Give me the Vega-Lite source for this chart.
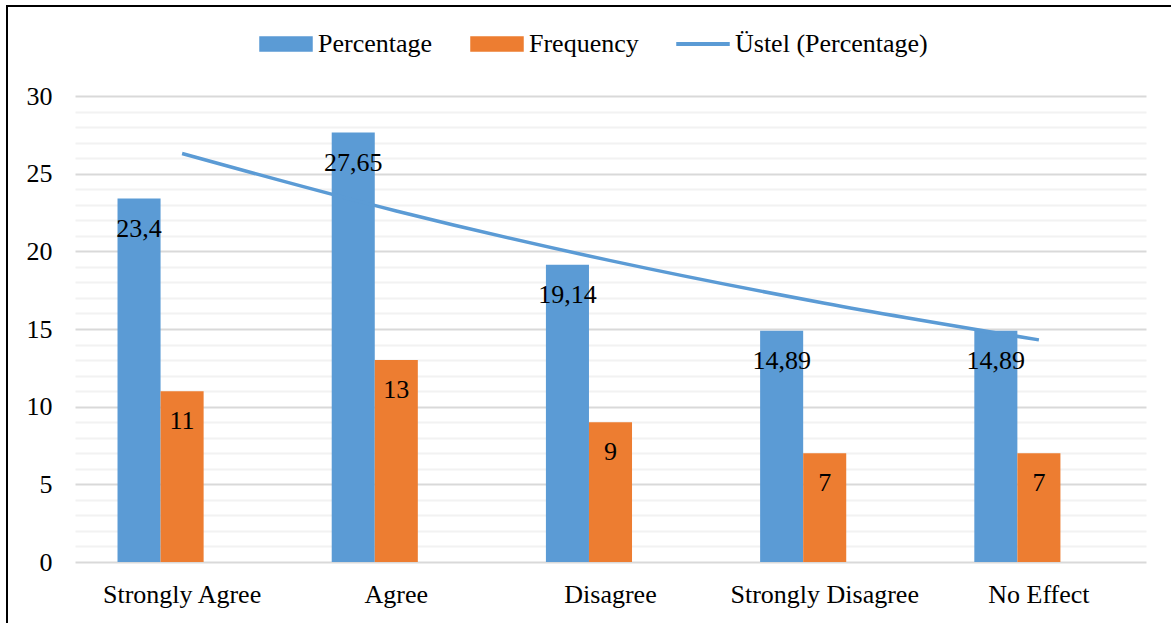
{
  "$schema": "https://vega.github.io/schema/vega-lite/v6.json",
  "autosize": {"type": "none"},
  "width": 1168,
  "height": 623,
  "padding": {"left": 7, "top": 6, "right": -4, "bottom": -6},
  "config": {
    "locale": {"number": {"decimal": ",", "thousands": ".", "grouping": [3], "currency": ["", " TL"]}},
    "font": "Liberation Serif",
    "view": {"stroke": "#000000", "strokeWidth": 2},
    "axis": {
      "labelFont": "Liberation Serif",
      "labelFontSize": 26,
      "labelColor": "#000000",
      "labelLimit": 0,
      "labelOverlap": false,
      "domain": false,
      "ticks": false,
      "tickSize": 0,
      "title": null
    },
    "legend": {
      "orient": "none",
      "legendX": 252,
      "legendY": 11,
      "direction": "horizontal",
      "title": null,
      "labelFont": "Liberation Serif",
      "labelFontSize": 26,
      "labelColor": "#000000",
      "labelLimit": 0,
      "labelOffset": 5,
      "columnPadding": 35,
      "symbolSize": 2704,
      "symbolType": "M-1,-0.27L1,-0.27L1,0.27L-1,0.27Z"
    }
  },
  "datasets": {
    "answers": [
      {"category": "Strongly Agree", "series": "Percentage", "value": 23.4},
      {"category": "Strongly Agree", "series": "Frequency", "value": 11},
      {"category": "Agree", "series": "Percentage", "value": 27.65},
      {"category": "Agree", "series": "Frequency", "value": 13},
      {"category": "Disagree", "series": "Percentage", "value": 19.14},
      {"category": "Disagree", "series": "Frequency", "value": 9},
      {"category": "Strongly Disagree", "series": "Percentage", "value": 14.89},
      {"category": "Strongly Disagree", "series": "Frequency", "value": 7},
      {"category": "No Effect", "series": "Percentage", "value": 14.89},
      {"category": "No Effect", "series": "Frequency", "value": 7}
    ],
    "trend": [
      {"category": "Strongly Agree", "series": "Üstel (Percentage)", "value": 26.3},
      {"category": "Agree", "series": "Üstel (Percentage)", "value": 22.6},
      {"category": "Disagree", "series": "Üstel (Percentage)", "value": 19.4},
      {"category": "Strongly Disagree", "series": "Üstel (Percentage)", "value": 16.66},
      {"category": "No Effect", "series": "Üstel (Percentage)", "value": 14.3}
    ]
  },
  "encoding": {
    "x": {
      "field": "category",
      "type": "nominal",
      "sort": ["Strongly Agree", "Agree", "Disagree", "Strongly Disagree", "No Effect"],
      "scale": {"range": [68, 1139], "paddingInner": 0.397, "paddingOuter": 0.1985},
      "axis": {"orient": "bottom", "offset": -67, "labelPadding": 19.5, "labelAngle": 0, "grid": false}
    },
    "y": {
      "field": "value",
      "type": "quantitative",
      "scale": {"domain": [0, 30], "range": [556, 90], "nice": false},
      "axis": {
        "orient": "left",
        "offset": -68,
        "labelPadding": 23,
        "labelOverlap": false,
        "labelFlush": false,
        "values": [0, 1, 2, 3, 4, 5, 6, 7, 8, 9, 10, 11, 12, 13, 14, 15, 16, 17, 18, 19, 20, 21, 22, 23, 24, 25, 26, 27, 28, 29, 30],
        "labelExpr": "datum.value % 5 === 0 ? datum.label : ''",
        "grid": true,
        "gridWidth": 2,
        "gridColor": {"condition": {"test": "datum.value % 5 === 0", "value": "#d9d9d9"}, "value": "#f2f2f2"}
      }
    }
  },
  "layer": [
    {
      "data": {"name": "answers"},
      "mark": {"type": "bar"},
      "encoding": {
        "xOffset": {
          "field": "series",
          "type": "nominal",
          "scale": {"domain": ["Percentage", "Frequency", "Üstel (Percentage)"], "paddingInner": 0, "paddingOuter": 0}
        },
        "color": {
          "field": "series",
          "type": "nominal",
          "scale": {"domain": ["Percentage", "Frequency", "Üstel (Percentage)"], "range": ["#5b9bd5", "#ed7d31", "#5b9bd5"]},
          "legend": {
            "encode": {
              "symbols": {
                "update": {
                  "shape": {"signal": "datum.value === 'Üstel (Percentage)' ? 'M-1,-0.045L1,-0.045L1,0.045L-1,0.045Z' : 'M-1,-0.27L1,-0.27L1,0.27L-1,0.27Z'"},
                  "fill": {"scale": "color", "field": "value"},
                  "stroke": {"value": "transparent"},
                  "fillOpacity": {"value": 1},
                  "opacity": {"value": 1}
                }
              }
            }
          }
        }
      }
    },
    {
      "data": {"name": "answers"},
      "mark": {"type": "text", "baseline": "alphabetic", "align": "center", "dy": 38, "fontSize": 26, "font": "Liberation Serif", "color": "#000000"},
      "encoding": {
        "xOffset": {"field": "series", "type": "nominal"},
        "text": {"field": "value", "type": "quantitative", "format": ".4~r"}
      }
    },
    {
      "data": {"name": "trend"},
      "mark": {"type": "line", "strokeWidth": 3.5, "interpolate": "monotone"},
      "encoding": {
        "color": {
          "field": "series",
          "type": "nominal",
          "legend": {
            "encode": {
              "symbols": {
                "update": {
                  "shape": {"signal": "datum.value === 'Üstel (Percentage)' ? 'M-1,-0.045L1,-0.045L1,0.045L-1,0.045Z' : 'M-1,-0.27L1,-0.27L1,0.27L-1,0.27Z'"},
                  "fill": {"scale": "color", "field": "value"},
                  "stroke": {"value": "transparent"},
                  "fillOpacity": {"value": 1},
                  "opacity": {"value": 1}
                }
              }
            }
          }
        }
      }
    }
  ]
}
